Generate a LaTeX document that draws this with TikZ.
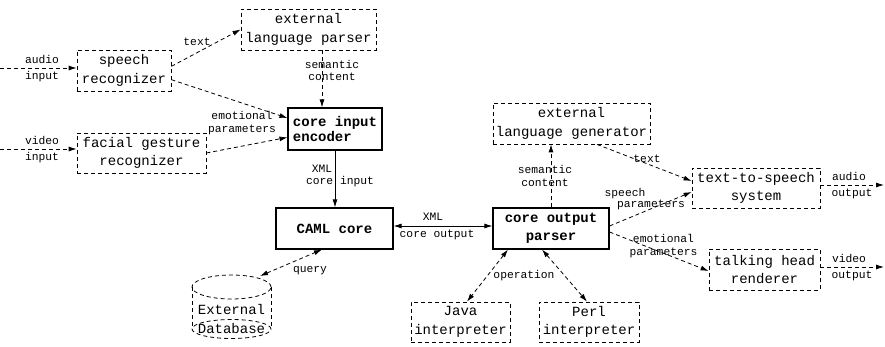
\documentclass[tikz,border=0pt]{standalone}
\usepackage{fontspec}
\setmonofont{Liberation Mono}
\usetikzlibrary{arrows.meta}

\begin{document}
\begin{tikzpicture}[x=1pt, y=-1pt, line width=0.8pt,
  >={Latex[length=8pt,width=5pt]},
  dline/.style={dash pattern=on 4pt off 3pt},
  dbox/.style={draw, dline, inner sep=2pt, align=center,
    font=\ttfamily\fontsize{14}{18.5}\selectfont},
  sbox/.style={draw, line width=1.1pt, inner sep=2pt, align=center,
    font=\ttfamily\bfseries\fontsize{14}{18.5}\selectfont},
  lbl/.style={inner sep=0pt, align=center,
    font=\ttfamily\fontsize{11.3}{12.5}\selectfont}]
			\useasboundingbox (0,0) rectangle (885,347);
			% boxes
			\node[dbox, minimum width=94pt, minimum height=41pt] (speech) at (124,70.5) {speech\\recognizer};
			\node[dbox, minimum width=129pt, minimum height=40pt] (facial) at (141.5,153) {facial gesture\\recognizer};
			\node[dbox, minimum width=135pt, minimum height=41pt] (parser) at (308.5,29.5) {external\\language parser};
			\node[sbox, minimum width=94pt, minimum height=42pt, align=left] (encoder) at (335,129) {core input\\[-4pt]encoder};
			\node[sbox, minimum width=117pt, minimum height=41pt] (caml) at (334.5,228.5) {CAML core};
			\node[sbox, minimum width=116pt, minimum height=41pt] (outparser) at (551,228.5) {core output\\parser};
			\node[dbox, minimum width=157pt, minimum height=41pt] (generator) at (571.5,123.5) {external\\language generator};
			\node[dbox, minimum width=128pt, minimum height=40pt] (tts) at (756,188) {text-to-speech\\system};
			\node[dbox, minimum width=111pt, minimum height=41pt] (talking) at (764.5,269.5) {talking head\\renderer};
			\node[dbox, minimum width=99pt, minimum height=40pt] (java) at (460.5,322) {Java\\interpreter};
			\node[dbox, minimum width=100pt, minimum height=40pt] (perl) at (589,322) {Perl\\interpreter};
			% database
			\draw[dline] (231.5,287) ellipse [x radius=39.5pt, y radius=12pt];
			\draw[dline] (231.5,329) ellipse [x radius=39.5pt, y radius=9.5pt];
			\draw[dline] (192,287) -- (192,329) (271,287) -- (271,329);
			\node[dbox, draw=none, inner sep=0pt] (db) at (231.5,319) {External\\Database};
			\coordinate (dbtop) at (260,276);
			% free ends
			\coordinate (ain) at (0,68);
			\coordinate (vin) at (0,149);
			\coordinate (aout) at (884,185);
			\coordinate (vout) at (884,267);
			% connectors
			\draw[dline,->] (ain) -- (ain -| speech.west);
			\draw[dline,->] (vin) -- (vin -| facial.west);
			\draw[dline,->] (speech.5) -- (parser.west);
			\draw[dline,->] (speech.-11) -- (encoder.167);
			\draw[dline,->] (facial.east) -- (encoder.190);
			\draw[dline,->] ([xshift=13.5pt]parser.south) -- ([xshift=-13pt]encoder.north);
			\draw[->] (encoder.south) -- (encoder.south |- caml.north);
			\draw[<->] ([yshift=2.5pt]caml.east) -- ([yshift=2.5pt]outparser.west);
			\draw[dline,<->] (dbtop) -- ([xshift=-12.5pt]caml.south);
			\draw[dline,->] (outparser.north) -- (outparser.north |- generator.south);
			\draw[dline,->] ([xshift=25.5pt]generator.south) -- ([yshift=7pt]tts.west);
			\draw[dline,->] ([yshift=2.5pt]outparser.east) -- ([yshift=-4pt]tts.west);
			\draw[dline,->] ([yshift=-3.5pt]outparser.east) -- ([yshift=-1.5pt]talking.west);
			\draw[dline,<->] ([xshift=-43pt]outparser.south) -- ([xshift=6.5pt]java.north);
			\draw[dline,<->] ([xshift=-9pt]outparser.south) -- ([xshift=-2pt]perl.north);
			\draw[dline,->] (aout -| tts.east) -- (aout);
			\draw[dline,->] (vout -| talking.east) -- (vout);
			% labels
			\node[lbl] (audioin) at (42,59) {audio};
			\node[lbl] (audioin2) at (42,77) {input};
			\node[lbl] (videoin) at (42,140) {video};
			\node[lbl] (videoin2) at (42,158) {input};
			\node[lbl] (textin) at (197,42) {text};
			\node[lbl] (semin) at (332,70.5) {semantic\\content};
			\node[lbl] (emoin) at (242,123) {emotional\\parameters};
			\node[lbl] (xmlin) at (322,169) {XML};
			\node[lbl] (xmlin2) at (340,182) {core input};
			\node[lbl] (xmlout) at (433,217) {XML};
			\node[lbl] (xmlout2) at (437,235) {core output};
			\node[lbl] (query) at (310,271) {query};
			\node[lbl] (oper) at (524,276) {operation};
			\node[lbl] (semout) at (545,176) {semantic\\content};
			\node[lbl] (textout) at (647,159) {text};
			\node[lbl] (speechpar) at (625,194) {speech};
			\node[lbl] (speechpar2) at (651,205) {parameters};
			\node[lbl] (emoout) at (663.5,246) {emotional\\parameters};
			\node[lbl] (audioout) at (849,176) {audio};
			\node[lbl] (audioout2) at (852,194) {output};
			\node[lbl] (videoout) at (849,258) {video};
			\node[lbl] (videoout2) at (852,276) {output};
			\end{tikzpicture}
\end{document}
